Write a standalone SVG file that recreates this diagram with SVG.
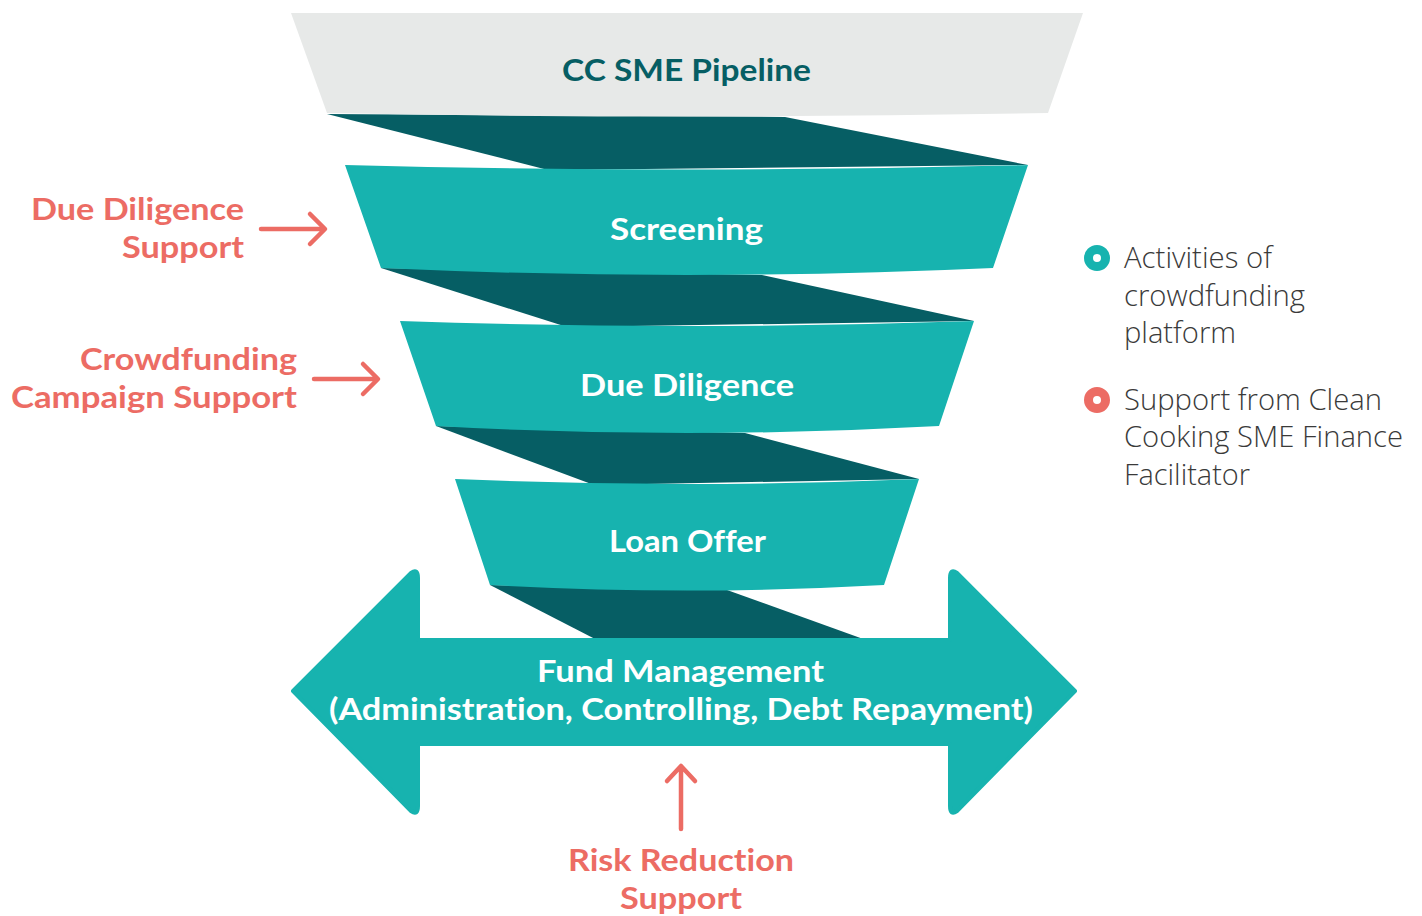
<svg xmlns="http://www.w3.org/2000/svg" width="1422" height="916" viewBox="0 0 1422 916">
<defs>
<style>
.teal{fill:#17B3AF}
.dark{fill:#065E64}
.gray{fill:#E7E9E8}
text{font-variant-ligatures:none}
.band{font-family:Lato,"Open Sans","Liberation Sans",sans-serif;font-weight:700;font-size:31px;fill:#FFFFFF;text-anchor:start}
.title{font-family:Lato,"Open Sans","Liberation Sans",sans-serif;font-weight:700;font-size:31px;fill:#065E64}
.coral{font-family:Lato,"Open Sans","Liberation Sans",sans-serif;font-weight:700;font-size:30px;fill:#EC6C64}
.legend{font-family:"Open Sans","Liberation Sans",sans-serif;font-weight:300;font-size:29px;fill:#3A3A3A}
.conn{fill:none;stroke:#EC6C64;stroke-width:4.5;stroke-linecap:round;stroke-linejoin:round}
</style>
</defs>
<rect width="1422" height="916" fill="#FFFFFF"/>

<g id="ribbons">
<path class="dark" d="M327,114 L785,117 L1028,165 L548,170 Z"/>
<path class="dark" d="M381,268 L762,275 L974,321 L567,327 Z"/>
<path class="dark" d="M436,426 L745,433 L919,479 L594,485 Z"/>
<path class="dark" d="M490,585 L727,590 L866,640 L597,640 Z"/>
</g>

<g id="node-pipeline">
<path class="gray" d="M291,13 L1083,13 L1048,113 Q687,120 327,113 Z"/>
<text class="title" x="562" y="81" textLength="249" lengthAdjust="spacingAndGlyphs">CC SME Pipeline</text>
</g>

<g id="node-screening">
<path class="teal" d="M345,165 Q687,174 1028,165 L993,268 Q687,282 381,268 Z"/>
<text class="band" x="610" y="240" textLength="153" lengthAdjust="spacingAndGlyphs">Screening</text>
</g>

<g id="node-due-diligence">
<path class="teal" d="M400,321 Q687,331 974,321 L939,426 Q687,440 436,426 Z"/>
<text class="band" x="580" y="396" textLength="214" lengthAdjust="spacingAndGlyphs">Due Diligence</text>
</g>

<g id="node-loan-offer">
<path class="teal" d="M455,479 Q687,489 919,479 L884,585 Q687,596 490,585 Z"/>
<text class="band" x="609" y="552" textLength="157" lengthAdjust="spacingAndGlyphs">Loan Offer</text>
</g>

<g id="node-fund-management">
<path class="teal" stroke="#17B3AF" stroke-width="4" stroke-linejoin="round" d="M293,691 L411,573 Q418,568 418,578 L418,640 L950,640 L950,578 Q950,568 957,573 L1075,691 L957,811 Q950,816 950,806 L950,744 L418,744 L418,806 Q418,816 411,811 Z"/>
<text class="band" x="537" y="682" textLength="287" lengthAdjust="spacingAndGlyphs">Fund Management</text>
<text class="band" x="329" y="720" textLength="704" lengthAdjust="spacingAndGlyphs">(Administration, Controlling, Debt Repayment)</text>
</g>

<g id="label-dd-support">
<text class="coral" x="31" y="220" textLength="213" lengthAdjust="spacingAndGlyphs">Due Diligence</text>
<text class="coral" x="122" y="258" textLength="122" lengthAdjust="spacingAndGlyphs">Support</text>
</g>

<g id="label-cf-support">
<text class="coral" x="80" y="370" textLength="217" lengthAdjust="spacingAndGlyphs">Crowdfunding</text>
<text class="coral" x="11" y="408" textLength="286" lengthAdjust="spacingAndGlyphs">Campaign Support</text>
</g>

<g id="label-risk-support">
<text class="coral" x="568" y="871" textLength="226" lengthAdjust="spacingAndGlyphs">Risk Reduction</text>
<text class="coral" x="620" y="909" textLength="122" lengthAdjust="spacingAndGlyphs">Support</text>
</g>

<g id="connectors">
<path class="conn" d="M261,229 L324,229 M310,214 L325,229 L310,244"/>
<path class="conn" d="M314,379 L377,379 M363,364 L378,379 L363,394"/>
<path class="conn" d="M681,829 L681,767 M667,781 L681,766 L695,781"/>
</g>

<g id="legend">
<circle cx="1097" cy="258" r="8.5" fill="none" stroke="#17B3AF" stroke-width="9"/>
<text class="legend" x="1124" y="268" textLength="148" lengthAdjust="spacingAndGlyphs">Activities of</text>
<text class="legend" x="1124" y="306" textLength="181" lengthAdjust="spacingAndGlyphs">crowdfunding</text>
<text class="legend" x="1124" y="343" textLength="112" lengthAdjust="spacingAndGlyphs">platform</text>
<circle cx="1097" cy="400" r="8.5" fill="none" stroke="#EC6C64" stroke-width="9"/>
<text class="legend" x="1124" y="410" textLength="258" lengthAdjust="spacingAndGlyphs">Support from Clean</text>
<text class="legend" x="1124" y="447" textLength="279" lengthAdjust="spacingAndGlyphs">Cooking SME Finance</text>
<text class="legend" x="1124" y="485" textLength="126" lengthAdjust="spacingAndGlyphs">Facilitator</text>
</g>
</svg>
